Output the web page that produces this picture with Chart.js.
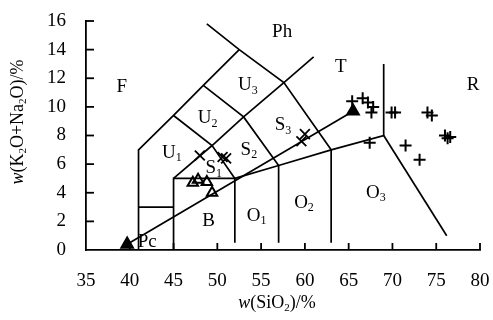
<!DOCTYPE html>
<html><head><meta charset="utf-8">
<script src="https://cdn.jsdelivr.net/npm/chart.js@4/dist/chart.umd.min.js"></script>
<style>html,body{margin:0;padding:0;background:#fff}</style>
</head><body>
<canvas id="c" width="493" height="320"></canvas>
<script>
// ---- data ----
const xTicks = [35, 40, 45, 50, 55, 60, 65, 70, 75, 80];
const yTicks = [0, 2, 4, 6, 8, 10, 12, 14, 16];

// TAS field boundaries (SiO2, K2O+Na2O)
const lineU1Top   = [[41,0],[41,7],[45,9.4],[48.4,11.5],[52.5,14]];
const linePcTop   = [[41,3],[45,3]];
const lineBLeft   = [[45,0],[45,5],[52,5]];
const lineSU      = [[45,5],[49.4,7.3],[53,9.3],[57.6,11.7],[61,13.5]];
const lineS1S2    = [[45,9.4],[49.4,7.3],[52,5],[52,0.5]];
const lineS2S3    = [[48.4,11.5],[53,9.3],[57,5.9],[57,0.5]];
const lineS3T     = [[48.8,15.8],[52.5,14],[57.6,11.7],[63,7],[63,0.5]];
const lineOTop    = [[52,5],[57,5.9],[63,7],[69,8],[69,13]];
const lineO3R     = [[69,8],[76.2,1]];
const boundaryLines = [lineU1Top, linePcTop, lineBLeft, lineSU, lineS1S2, lineS2S3, lineS3T, lineOTop, lineO3R];

// samples
const plusPoints = [[65.4,10.4],[66.6,10.6],[67.2,10.3],[67.8,10.0],[67.6,9.6],[69.9,9.6],[70.3,9.6],
  [74.0,9.6],[74.5,9.4],[76.0,8.0],[76.3,7.8],[76.6,7.9],[67.4,7.5],[71.5,7.3],[73.1,6.3]];
const crossPoints = [[48.0,6.6],[50.6,6.5],[51.0,6.4],[59.6,7.6],[60.0,8.1]];
const openTriangles = [[47.2,4.7],[47.8,4.9],[48.8,4.75],[49.4,4.0]];
const filledTriangles = [[39.7,0.4],[65.5,9.7]];

// field labels: [main, subscript, SiO2, alkali]
const regionLabels = [
  ['F','',39.1,11.4],['Ph','',57.4,15.2],['U','3',53.5,11.5],['U','2',48.9,9.2],['U','1',44.8,6.8],
  ['S','1',49.6,5.7],['S','2',53.6,7.0],['S','3',57.5,8.7],['T','',64.1,12.8],['R','',79.2,11.5],
  ['Pc','',42.0,0.55],['B','',49.0,2.0],['O','1',54.5,2.4],['O','2',59.9,3.3],['O','3',68.1,4.0]
];

const toXY = a => a.map(p => ({x:p[0], y:p[1]}));
const FONT = "'Liberation Serif','Times New Roman',serif";

const datasets = [];
boundaryLines.forEach(l => datasets.push({
  data: toXY(l), showLine: true, borderColor:'#000', borderWidth:1.7, pointRadius:0, fill:false, tension:0
}));
datasets.push({data: toXY(filledTriangles), showLine:true, borderColor:'#000', borderWidth:1.7,
  pointStyle:'triangle', pointRadius:7, backgroundColor:'#000', pointBorderColor:'#000'});
datasets.push({data: toXY(plusPoints), showLine:false, pointStyle:'cross', pointRadius:6,
  pointBorderColor:'#000', pointBorderWidth:2});
datasets.push({data: toXY(crossPoints), showLine:false, pointStyle:'crossRot', pointRadius:7,
  pointBorderColor:'#000', pointBorderWidth:1.8});
datasets.push({data: toXY(openTriangles), showLine:false, pointStyle:'triangle', pointRadius:6,
  pointBackgroundColor:'rgba(255,255,255,0)', pointBorderColor:'#000', pointBorderWidth:2});

function drawRich(ctx, parts, x, y, size) {
  const fontOf = st => (st==='i' ? 'italic ' : '') + (st==='s' ? Math.round(size*0.62) : size) + 'px ' + FONT;
  let w = 0;
  parts.forEach(p => { ctx.font = fontOf(p[1]); w += ctx.measureText(p[0]).width; });
  let cx = x - w/2;
  ctx.textAlign = 'left'; ctx.textBaseline = 'middle';
  parts.forEach(p => {
    ctx.font = fontOf(p[1]);
    ctx.fillText(p[0], cx, y + (p[1]==='s' ? size*0.28 : 0));
    cx += ctx.measureText(p[0]).width;
  });
}

const overlay = {
  id:'overlay',
  afterDraw(chart) {
    const ctx = chart.ctx, xs = chart.scales.x, ys = chart.scales.y, a = chart.chartArea;
    ctx.save();
    ctx.strokeStyle = '#000'; ctx.lineWidth = 1.8;
    xTicks.forEach(v => { if (v === xTicks[0]) return; const px = xs.getPixelForValue(v);
      ctx.beginPath(); ctx.moveTo(px, a.bottom); ctx.lineTo(px, a.bottom - 7); ctx.stroke(); });
    yTicks.forEach(v => { if (v === yTicks[0]) return; const py = ys.getPixelForValue(v);
      ctx.beginPath(); ctx.moveTo(a.left, py); ctx.lineTo(a.left + 8, py); ctx.stroke(); });
    ctx.fillStyle = '#000';
    regionLabels.forEach(r => {
      const parts = [[r[0], '']]; if (r[1]) parts.push([r[1], 's']);
      drawRich(ctx, parts, xs.getPixelForValue(r[2]), ys.getPixelForValue(r[3]), 19);
    });
    drawRich(ctx, [['w','i'],['(SiO',''],['2','s'],[')/%','']], 277, 303, 18);
    ctx.save();
    ctx.translate(18, 122); ctx.rotate(-Math.PI/2);
    drawRich(ctx, [['w','i'],['(K',''],['2','s'],['O+Na',''],['2','s'],['O)/%','']], 0, 0, 18);
    ctx.restore();
    ctx.restore();
  }
};

new Chart(document.getElementById('c'), {
  type:'scatter',
  data:{datasets},
  options:{
    responsive:false, animation:false, devicePixelRatio:1,
    layout:{padding:{top:21, right:13, left:0, bottom:0}},
    plugins:{legend:{display:false}, tooltip:{enabled:false}},
    scales:{
      x:{type:'linear', min:35, max:80,
        afterBuildTicks: s => { s.ticks = xTicks.map(v => ({value:v})); },
        afterFit: s => { s.height = 70; s.paddingLeft = 0; s.paddingRight = 0; },
        grid:{display:false, drawTicks:false},
        border:{display:true, color:'#000', width:1.8},
        ticks:{padding:20, color:'#000', font:{family:FONT, size:19}, maxRotation:0}
      },
      y:{type:'linear', min:0, max:16,
        afterBuildTicks: s => { s.ticks = yTicks.map(v => ({value:v})); },
        afterFit: s => { s.width = 86; s.paddingTop = 0; s.paddingBottom = 0; },
        grid:{display:false, drawTicks:false},
        border:{display:true, color:'#000', width:1.8},
        ticks:{padding:20, color:'#000', font:{family:FONT, size:19}}
      }
    }
  },
  plugins:[overlay]
});
</script>
</body></html>
